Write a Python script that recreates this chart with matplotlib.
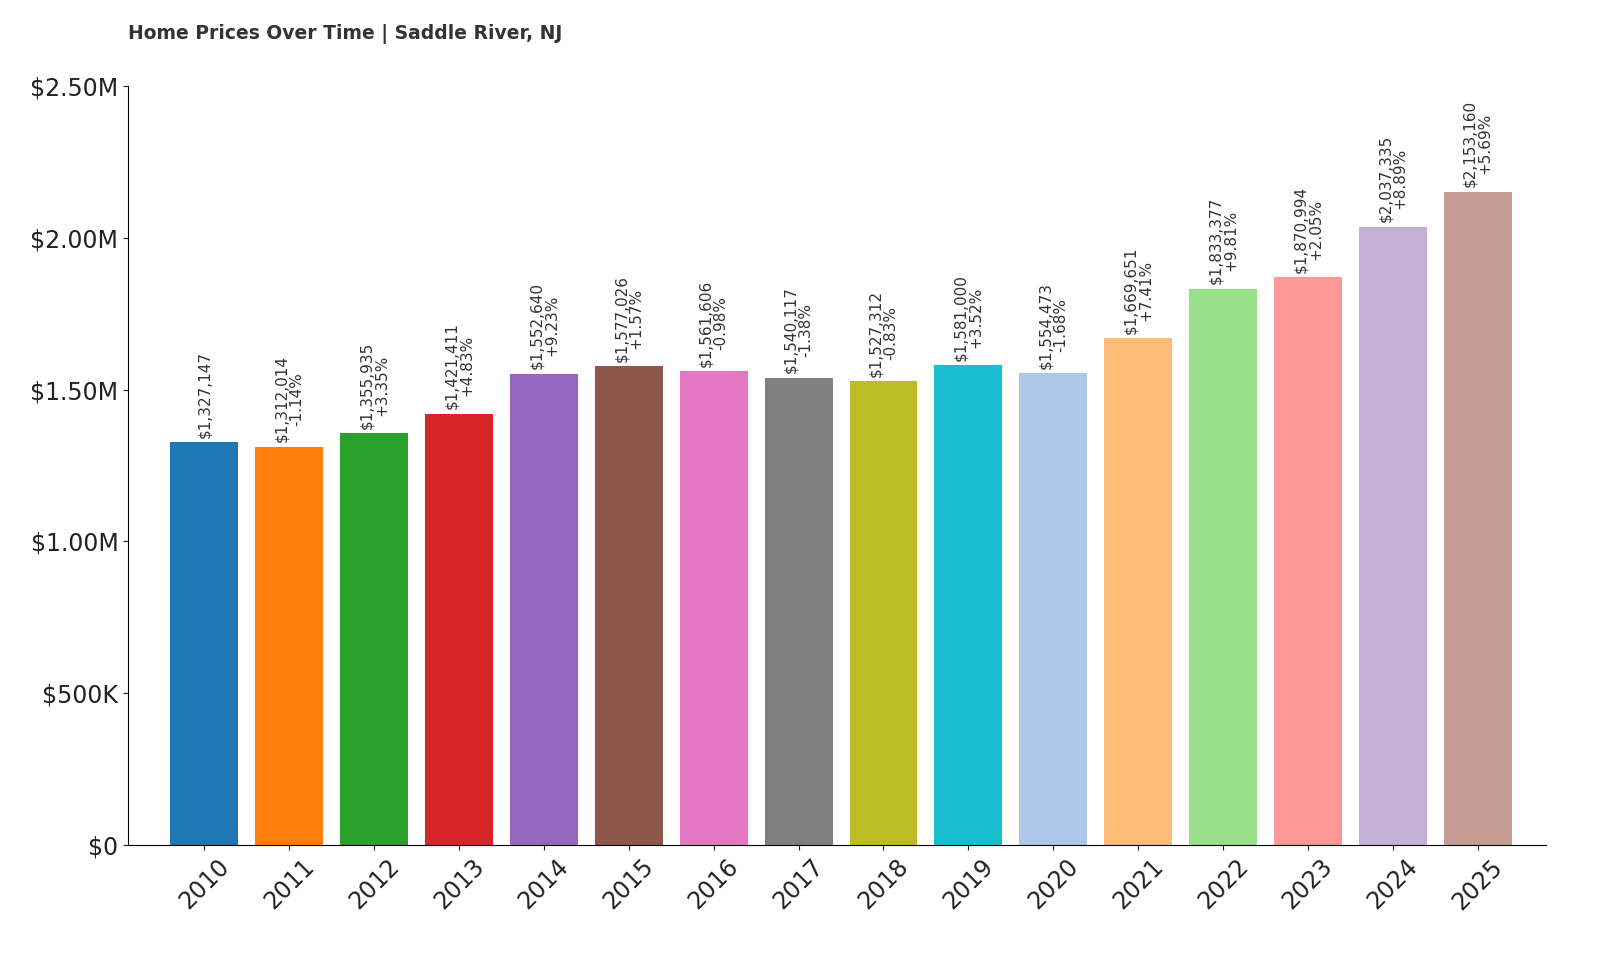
import matplotlib
matplotlib.use("Agg")
import matplotlib.pyplot as plt
from matplotlib.ticker import FuncFormatter

years = [str(y) for y in range(2010, 2026)]
prices = [1327147, 1312014, 1355935, 1421411, 1552640, 1577026, 1561606, 1540117,
          1527312, 1581000, 1554473, 1669651, 1833377, 1870994, 2037335, 2153160]
changes = [None, -1.14, 3.35, 4.83, 9.23, 1.57, -0.98, -1.38,
           -0.83, 3.52, -1.68, 7.41, 9.81, 2.05, 8.89, 5.69]

colors = ["#1f77b4", "#ff7f0e", "#2ca02c", "#d62728", "#9467bd", "#8c564b",
          "#e377c2", "#7f7f7f", "#bcbd22", "#17becf", "#aec7e8", "#ffbb78",
          "#98df8a", "#ff9896", "#c5b0d5", "#c49c94"]

fig = plt.figure(figsize=(16, 9.6), dpi=100)
ax = fig.add_axes([0.08, 0.12, 0.886, 0.79])

bars = ax.bar(years, prices, color=colors, width=0.8)
for i, (b, p, c) in enumerate(zip(bars, prices, changes)):
    txt = f"${p:,}" if c is None else f"${p:,}\n{c:+.2f}%"
    ax.text(b.get_x() + b.get_width() / 2, p + 15000, txt, rotation=90,
            ha="center", va="bottom", fontsize=11, color="#333333", linespacing=1.0)

ax.set_ylim(0, 2500000)
ax.set_yticks([0, 500000, 1000000, 1500000, 2000000, 2500000])

def fmt(v, pos):
    if v == 0:
        return "$0"
    if v >= 1e6:
        return f"${v/1e6:.2f}M"
    return f"${v/1e3:.0f}K"

ax.yaxis.set_major_formatter(FuncFormatter(fmt))
ax.tick_params(axis="both", labelsize=17, colors="#222222")
plt.setp(ax.get_xticklabels(), rotation=45)
ax.spines["top"].set_visible(False)
ax.spines["right"].set_visible(False)
ax.set_xlim(-0.9, 15.8)

fig.text(0.08, 0.965, "Home Prices Over Time | Saddle River, NJ", fontsize=13.5,
         fontweight="bold", color="#333333", ha="left", va="center")

fig.savefig("out.png", dpi=100)
